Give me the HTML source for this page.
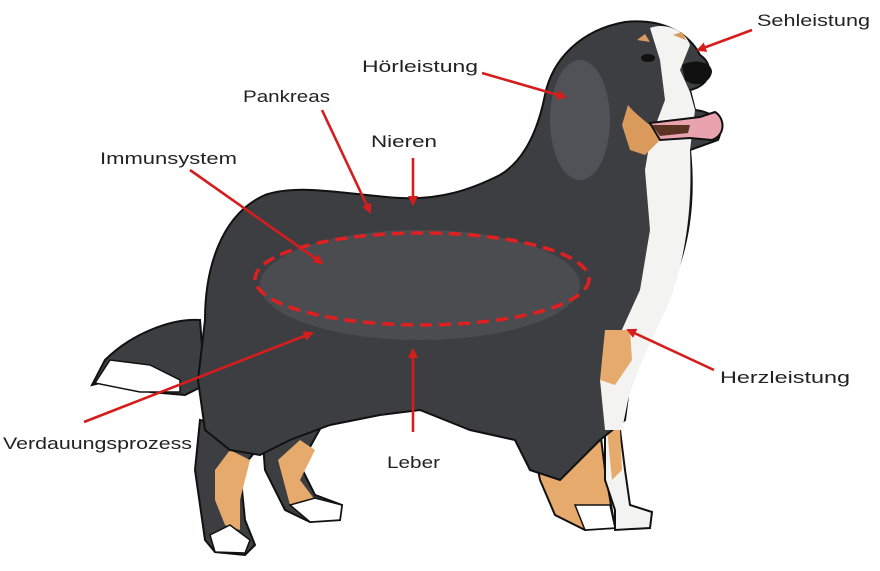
<!DOCTYPE html>
<html><head><meta charset="utf-8"><style>
html,body{margin:0;padding:0;background:#fff;}
svg{display:block}
text{font-family:"Liberation Sans",sans-serif;font-size:17px;fill:#222;}
</style></head><body>
<svg width="880" height="571" viewBox="0 0 880 571" xmlns="http://www.w3.org/2000/svg">
<defs>
<marker id="ah" markerWidth="10" markerHeight="10" refX="8" refY="5" orient="auto" markerUnits="userSpaceOnUse">
<path d="M0,0 L10,5 L0,10 Z" fill="#d61d1d"/>
</marker>
</defs>
<!-- tail -->
<path d="M200,320 C170,318 130,335 105,360 L92,385 L120,378 L150,392 L185,395 L205,385 Z" fill="#3c3e42" stroke="#111" stroke-width="2"/>
<path d="M95,383 L110,360 L150,365 L180,380 L180,392 L140,392 Z" fill="#fff" stroke="#111" stroke-width="1.5"/>
<!-- hind legs -->
<path d="M200,420 L195,470 L205,540 L215,552 L245,555 L255,545 L245,520 L240,470 L265,440 Z" fill="#3c3e42" stroke="#111" stroke-width="2"/>
<path d="M215,470 L230,450 L250,460 L240,500 L240,530 L225,525 L215,500 Z" fill="#e5aa6c"/>
<path d="M210,535 L230,525 L250,540 L245,553 L215,552 Z" fill="#fff" stroke="#111" stroke-width="1.5"/>
<path d="M262,430 L265,470 L285,510 L310,522 L340,520 L342,505 L315,495 L300,465 L325,420 Z" fill="#3c3e42" stroke="#111" stroke-width="2"/>
<path d="M278,460 L300,440 L315,450 L300,480 L315,500 L290,505 Z" fill="#e5aa6c"/>
<path d="M290,505 L315,498 L342,505 L340,520 L310,522 Z" fill="#fff" stroke="#111" stroke-width="1.5"/>
<!-- front legs -->
<path d="M530,430 L540,480 L555,515 L585,530 L615,528 L605,470 L600,430 Z" fill="#e5aa6c" stroke="#111" stroke-width="2"/>
<path d="M575,505 L610,505 L615,528 L585,530 Z" fill="#fff" stroke="#111" stroke-width="1.5"/>
<path d="M605,430 L605,480 L615,510 L615,530 L650,528 L652,512 L630,505 L625,470 L620,430 Z" fill="#f3f3f1" stroke="#111" stroke-width="2"/>
<path d="M607,430 L620,430 L622,470 L612,480 Z" fill="#e5aa6c"/>
<!-- body -->
<path d="M205,320 C205,270 220,215 265,195 C300,183 350,195 400,198 C440,200 470,190 500,175 C525,160 538,130 545,95 C552,60 580,30 625,22 C665,18 690,35 700,55 C715,65 712,85 690,90 L695,110 C715,112 725,125 718,140 L690,150 C695,200 690,250 665,300 C650,330 640,360 630,380 L625,420 L600,440 L560,480 L530,470 L515,440 L470,430 L420,410 L380,415 L330,425 L290,440 L260,455 L230,450 L205,430 L198,380 Z" fill="#3c3e42" stroke="#111" stroke-width="2"/>
<ellipse cx="420" cy="285" rx="160" ry="55" fill="#505256" opacity="0.7"/>
<ellipse cx="580" cy="120" rx="30" ry="60" fill="#56585c" opacity="0.8"/>
<!-- white blaze & chest -->
<path d="M650,28 C665,22 685,30 690,45 L680,70 L690,92 L695,110 L690,150 C692,200 688,250 670,300 C655,335 640,360 628,400 L622,430 L605,430 L600,380 L615,345 L640,290 L650,230 L645,170 L650,140 L665,100 L660,60 Z" fill="#f3f3f1"/>
<path d="M605,330 L630,330 L632,360 L615,385 L600,380 Z" fill="#e5aa6c"/>
<path d="M628,105 C640,120 655,125 660,140 L645,155 L630,150 L622,125 Z" fill="#d99a5c"/>
<path d="M650,123 L700,117 L715,112 C725,118 726,135 712,140 L690,138 L660,140 Z" fill="#e8a3ae" stroke="#111" stroke-width="2"/>
<path d="M652,125 L690,125 L688,133 L660,136 Z" fill="#5a3322"/>
<path d="M682,65 C695,58 712,62 712,72 C710,84 695,88 685,80 Z" fill="#111"/>
<ellipse cx="648" cy="58" rx="7" ry="4" fill="#111"/>
<path d="M637,40 L645,34 L650,42 Z" fill="#d99a5c"/>
<path d="M673,35 L682,32 L686,40 Z" fill="#d99a5c"/>
<ellipse cx="422" cy="279" rx="167" ry="46" fill="none" stroke="#e02020" stroke-width="3.5" stroke-dasharray="12,7"/>
<g stroke="#d61d1d" stroke-width="2.6" fill="none" marker-end="url(#ah)">
<line x1="752" y1="30" x2="698" y2="50"/>
<line x1="482" y1="73" x2="565" y2="97"/>
<line x1="322" y1="110" x2="370" y2="212"/>
<line x1="413" y1="158" x2="413" y2="204"/>
<line x1="190" y1="170" x2="322" y2="263"/>
<line x1="714" y1="370" x2="628" y2="330"/>
<line x1="84" y1="422" x2="312" y2="333"/>
<line x1="413" y1="432" x2="413" y2="350"/>
</g>
<text x="757" y="26" textLength="113" lengthAdjust="spacingAndGlyphs">Sehleistung</text>
<text x="362" y="72" textLength="116" lengthAdjust="spacingAndGlyphs">Hörleistung</text>
<text x="243" y="102" textLength="87" lengthAdjust="spacingAndGlyphs">Pankreas</text>
<text x="371" y="147" textLength="66" lengthAdjust="spacingAndGlyphs">Nieren</text>
<text x="100" y="164" textLength="137" lengthAdjust="spacingAndGlyphs">Immunsystem</text>
<text x="720" y="383" textLength="130" lengthAdjust="spacingAndGlyphs">Herzleistung</text>
<text x="3" y="449" textLength="189" lengthAdjust="spacingAndGlyphs">Verdauungsprozess</text>
<text x="387" y="468" textLength="53" lengthAdjust="spacingAndGlyphs">Leber</text>
</svg>
</body></html>
